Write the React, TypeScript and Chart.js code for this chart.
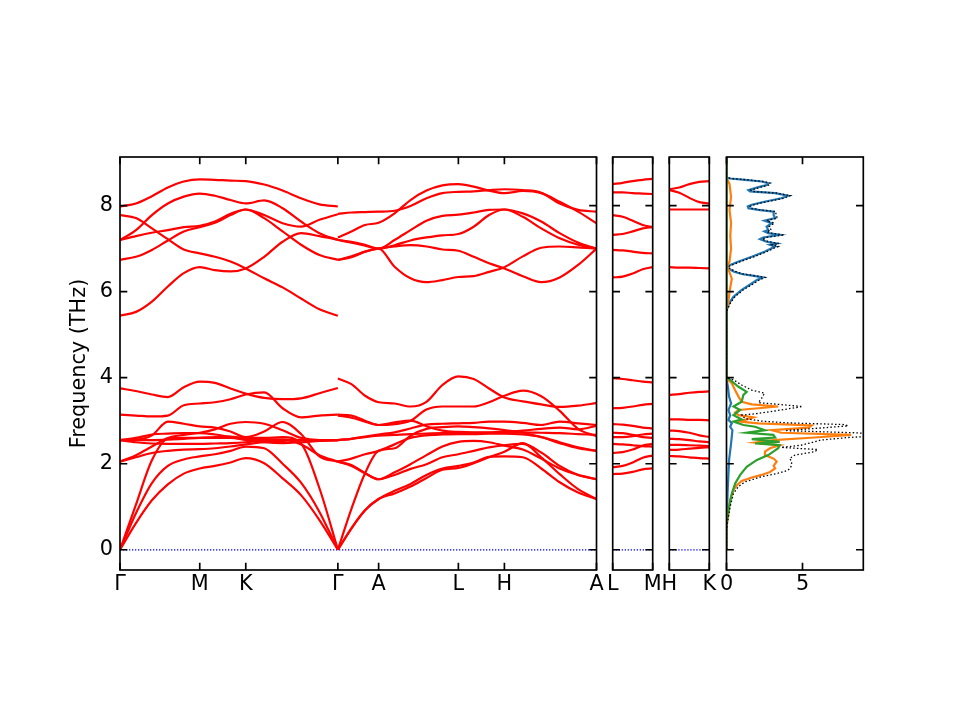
import { useEffect, useRef } from 'react';
import { Chart, registerables } from 'chart.js';

Chart.register(...registerables);

const W = 960;
const H = 720;
const TOP = 157;
const BOTTOM = 570;
const FONT = { family: 'DejaVu Sans', size: 20.8 };
const Y_MIN = -0.47;
const Y_MAX = 9.13;
const Y_AXIS_W = 60;

const freqTicks = [0, 2, 4, 6, 8];

// main path: Γ-M-K-Γ | Γ-A-L-H-A
const kTicksMain = [0, 1, 1.577, 2.732, 3.243, 4.243, 4.82, 5.975];
const kLabelsMain = ['Γ', 'M', 'K', 'Γ', 'A', 'L', 'H', 'A'];
const kPath1 = [0, 0.2, 0.4, 0.6, 0.8, 1, 1.19, 1.385, 1.577, 1.808, 2.039, 2.27, 2.501, 2.732];
const kPath2 = [2.732, 2.902, 3.073, 3.243, 3.443, 3.643, 3.843, 4.043, 4.243, 4.435, 4.628, 4.82, 5.051, 5.282, 5.513, 5.744, 5.975];

const bands1 = [
  [7.98, 8.05, 8.22, 8.42, 8.56, 8.61, 8.6, 8.58, 8.57, 8.49, 8.35, 8.17, 8.03, 7.98],
  [7.2, 7.43, 7.78, 8.05, 8.21, 8.28, 8.23, 8.13, 8.05, 8.12, 7.94, 7.63, 7.36, 7.2],
  [7.78, 7.71, 7.47, 7.22, 6.98, 6.89, 6.81, 6.7, 6.54, 6.31, 6.1, 5.84, 5.59, 5.44],
  [5.44, 5.53, 5.77, 6.12, 6.43, 6.57, 6.5, 6.47, 6.54, 6.81, 7.16, 7.36, 7.29, 7.21],
  [7.2, 7.29, 7.37, 7.43, 7.5, 7.53, 7.63, 7.81, 7.91, 7.78, 7.59, 7.51, 7.67, 7.8],
  [6.74, 6.81, 6.97, 7.19, 7.4, 7.5, 7.6, 7.78, 7.91, 7.71, 7.4, 7.09, 6.85, 6.74],
  [3.75, 3.69, 3.61, 3.55, 3.78, 3.91, 3.88, 3.75, 3.63, 3.53, 3.5, 3.52, 3.64, 3.76],
  [3.14, 3.12, 3.1, 3.12, 3.36, 3.4, 3.43, 3.5, 3.61, 3.66, 3.29, 3.08, 3.12, 3.14],
  [2.55, 2.56, 2.66, 2.98, 2.93, 2.87, 2.84, 2.75, 2.62, 2.75, 2.97, 2.69, 2.17, 2.05],
  [2.05, 2.2, 2.4, 2.6, 2.67, 2.72, 2.8, 2.93, 2.97, 2.93, 2.78, 2.6, 2.55, 2.55],
  [2.55, 2.55, 2.55, 2.56, 2.58, 2.6, 2.6, 2.6, 2.58, 2.57, 2.56, 2.55, 2.55, 2.55],
  [2.55, 2.5, 2.47, 2.46, 2.46, 2.46, 2.47, 2.48, 2.5, 2.54, 2.56, 2.45, 2.2, 2.05],
  [2.05, 2.15, 2.25, 2.3, 2.33, 2.34, 2.36, 2.4, 2.45, 2.5, 2.53, 2.55, 2.55, 2.55],
  [2.55, 2.6, 2.68, 2.7, 2.71, 2.71, 2.68, 2.62, 2.55, 2.5, 2.48, 2.5, 2.53, 2.55],
  [0, 0.62, 1.15, 1.52, 1.77, 1.89, 1.95, 2.03, 2.13, 2.01, 1.66, 1.27, 0.69, 0],
  [0, 0.85, 1.55, 1.95, 2.1, 2.17, 2.22, 2.3, 2.4, 2.36, 2.0, 1.56, 0.88, 0],
  [0, 1.05, 2.08, 2.58, 2.6, 2.6, 2.62, 2.63, 2.6, 2.6, 2.62, 2.47, 1.43, 0],
];

const bands2 = [
  [7.26, 7.4, 7.55, 7.6, 7.82, 8.13, 8.35, 8.47, 8.5, 8.44, 8.35, 8.29, 8.34, 8.29, 8.09, 7.86, 7.59],
  [7.81, 7.84, 7.85, 7.86, 7.88, 7.99, 8.17, 8.29, 8.32, 8.33, 8.36, 8.38, 8.36, 8.3, 8.05, 7.9, 7.86],
  [7.2, 7.16, 7.09, 7.0, 7.08, 7.19, 7.26, 7.31, 7.34, 7.51, 7.78, 7.91, 7.74, 7.47, 7.24, 7.09, 7.0],
  [7.2, 7.14, 7.07, 7.0, 7.2, 7.43, 7.65, 7.76, 7.79, 7.84, 7.9, 7.91, 7.82, 7.63, 7.36, 7.14, 7.0],
  [6.74, 6.8, 6.93, 7.0, 7.05, 7.08, 7.05, 6.98, 6.95, 6.81, 6.66, 6.54, 6.36, 6.22, 6.33, 6.62, 7.0],
  [6.74, 6.82, 6.93, 7.0, 6.58, 6.31, 6.22, 6.27, 6.34, 6.36, 6.46, 6.57, 6.82, 7.02, 7.05, 7.03, 7.0],
  [3.98, 3.85, 3.58, 3.43, 3.4, 3.33, 3.44, 3.83, 4.03, 3.97, 3.75, 3.54, 3.45, 3.38, 3.32, 3.35, 3.41],
  [3.14, 3.12, 3.0, 2.9, 2.92, 3.0, 3.26, 3.33, 3.33, 3.33, 3.43, 3.58, 3.7, 3.57, 3.23, 2.81, 2.64],
  [3.12, 3.07, 2.98, 2.9, 2.96, 3.0, 2.87, 2.77, 2.74, 2.73, 2.73, 2.74, 2.77, 2.81, 2.84, 2.8, 2.88],
  [2.55, 2.58, 2.62, 2.65, 2.67, 2.69, 2.7, 2.71, 2.71, 2.72, 2.72, 2.73, 2.73, 2.72, 2.71, 2.69, 2.67],
  [2.55, 2.58, 2.63, 2.68, 2.73, 2.82, 2.91, 2.93, 2.94, 2.95, 2.98, 2.98, 2.95, 2.9, 2.98, 2.94, 2.9],
  [0, 0.95, 1.78, 2.3, 2.36, 2.65, 2.81, 2.85, 2.87, 2.85, 2.82, 2.78, 2.72, 2.62, 2.48, 2.36, 2.3],
  [2.05, 2.12, 2.22, 2.3, 2.45, 2.6, 2.66, 2.68, 2.69, 2.69, 2.7, 2.7, 2.68, 2.62, 2.5, 2.38, 2.3],
  [2.05, 1.97, 1.78, 1.64, 1.8, 1.99, 2.2, 2.4, 2.51, 2.53, 2.5, 2.42, 2.33, 2.12, 1.89, 1.74, 1.64],
  [2.05, 1.95, 1.78, 1.64, 1.74, 1.88, 1.99, 2.15, 2.22, 2.3, 2.38, 2.43, 2.46, 2.26, 1.95, 1.74, 1.64],
  [0, 0.5, 0.92, 1.18, 1.31, 1.47, 1.67, 1.86, 1.9, 2.01, 2.15, 2.28, 2.48, 2.15, 1.76, 1.41, 1.18],
  [0, 0.5, 0.92, 1.18, 1.37, 1.53, 1.74, 1.89, 1.95, 2.03, 2.16, 2.17, 2.15, 1.89, 1.57, 1.33, 1.18],
];

// L-M panel
const kLM = [0, 0.127, 0.255, 0.382, 0.509];
const labelsLM = ['L', 'M'];
const bandsLM = [
  [8.5, 8.53, 8.57, 8.6, 8.62],
  [8.31, 8.31, 8.29, 8.28, 8.27],
  [7.78, 7.74, 7.65, 7.55, 7.5],
  [7.32, 7.34, 7.4, 7.47, 7.5],
  [6.97, 6.96, 6.93, 6.9, 6.89],
  [6.33, 6.35, 6.42, 6.52, 6.57],
  [3.99, 3.97, 3.94, 3.91, 3.89],
  [3.29, 3.3, 3.33, 3.37, 3.39],
  [2.92, 2.91, 2.88, 2.84, 2.82],
  [2.72, 2.71, 2.67, 2.62, 2.6],
  [2.62, 2.62, 2.64, 2.68, 2.7],
  [2.46, 2.45, 2.43, 2.41, 2.4],
  [2.25, 2.27, 2.33, 2.42, 2.46],
  [1.92, 1.95, 2.03, 2.14, 2.19],
  [1.76, 1.77, 1.81, 1.87, 1.89],
];

// H-K panel
const kHK = [0, 0.127, 0.255, 0.382, 0.509];
const labelsHK = ['H', 'K'];
const bandsHK = [
  [8.38, 8.42, 8.5, 8.55, 8.57],
  [8.36, 8.3, 8.18, 8.08, 8.05],
  [7.91, 7.91, 7.91, 7.91, 7.91],
  [6.57, 6.56, 6.56, 6.55, 6.54],
  [3.6, 3.62, 3.65, 3.67, 3.68],
  [3.03, 3.03, 3.02, 3.02, 3.01],
  [2.77, 2.76, 2.72, 2.66, 2.62],
  [2.58, 2.57, 2.55, 2.52, 2.5],
  [2.44, 2.44, 2.43, 2.42, 2.41],
  [2.32, 2.33, 2.35, 2.37, 2.38],
  [2.18, 2.17, 2.15, 2.13, 2.12],
];

// DOS: [frequency, dos]
const dosTicks = [0, 5];
const dosLabels = ['0', '5'];
const dosTotal = [
  [0, 0], [0.46, 0], [0.69, 0.09], [1.0, 0.24], [1.31, 0.46], [1.47, 0.79], [1.58, 1.22], [1.7, 2.31],
  [1.78, 3.4], [1.85, 4.06], [1.93, 4.24], [2.05, 4.3], [2.12, 4.15], [2.2, 4.5], [2.28, 5.8], [2.33, 6.0],
  [2.38, 3.6], [2.43, 4.9], [2.51, 5.8], [2.55, 6.2], [2.61, 8.0], [2.67, 11.0], [2.72, 8.4], [2.77, 3.85],
  [2.82, 5.8], [2.88, 8.0], [2.91, 7.8], [2.95, 4.06], [2.99, 2.31], [3.05, 1.22], [3.13, 1.0], [3.17, 2.1],
  [3.25, 3.6], [3.33, 5.0], [3.36, 4.06], [3.42, 2.1], [3.52, 2.31], [3.64, 2.5], [3.71, 1.66], [3.83, 1.0],
  [3.95, 0.46], [4.0, 0], [5.5, 0], [5.57, 0.04], [5.73, 0.25], [5.88, 0.55], [6.04, 1.1], [6.19, 1.8],
  [6.27, 2.15], [6.33, 2.55], [6.36, 2.05], [6.41, 1.12], [6.47, 0.58], [6.54, 0.22], [6.58, 0.1], [6.62, 0.35],
  [6.7, 0.95], [6.81, 1.8], [6.93, 2.65], [7.01, 3.12], [7.05, 3.4], [7.09, 3.0], [7.12, 3.45], [7.16, 2.8],
  [7.22, 2.35], [7.26, 2.6], [7.32, 3.8], [7.36, 2.9], [7.4, 2.65], [7.43, 2.95], [7.51, 2.8], [7.59, 3.15],
  [7.65, 2.65], [7.71, 3.35], [7.78, 3.25], [7.86, 3.25], [7.9, 2.25], [7.94, 1.6], [7.98, 1.55], [8.02, 1.8],
  [8.09, 2.65], [8.17, 3.75], [8.23, 4.2], [8.29, 3.35], [8.33, 1.7], [8.36, 1.6], [8.43, 2.25], [8.48, 2.8],
  [8.52, 2.9], [8.56, 2.45], [8.6, 1.35], [8.63, 0.3], [8.66, 0], [9.13, 0],
];
const dosBlue = [
  [0, 0], [0.38, 0], [1.31, 0.07], [2.09, 0.17], [2.47, 0.3], [2.78, 0.39], [2.86, 0.24], [2.94, 0.35],
  [3.02, 0.13], [3.13, 0.24], [3.25, 0.13], [3.4, 0.3], [3.56, 0.17], [3.79, 0.09], [3.98, 0], [5.5, 0],
  [5.57, 0.02], [5.73, 0.17], [5.88, 0.46], [6.04, 1.0], [6.19, 1.66], [6.27, 2.0], [6.33, 2.4], [6.36, 1.9],
  [6.41, 1.0], [6.47, 0.46], [6.54, 0.13], [6.58, 0.05], [6.62, 0.24], [6.7, 0.8], [6.81, 1.66], [6.93, 2.5],
  [7.01, 2.97], [7.05, 3.2], [7.09, 2.86], [7.12, 3.3], [7.16, 2.64], [7.22, 2.2], [7.26, 2.42], [7.32, 3.5],
  [7.36, 2.75], [7.4, 2.5], [7.43, 2.75], [7.51, 2.64], [7.59, 2.97], [7.65, 2.5], [7.71, 3.2], [7.78, 3.1],
  [7.86, 3.1], [7.9, 2.1], [7.94, 1.44], [7.98, 1.4], [8.02, 1.66], [8.09, 2.5], [8.17, 3.6], [8.23, 4.06],
  [8.29, 3.2], [8.33, 1.55], [8.36, 1.44], [8.43, 2.1], [8.48, 2.64], [8.52, 2.75], [8.56, 2.31], [8.6, 1.22],
  [8.63, 0.24], [8.65, 0], [9.13, 0],
];
const dosOrange = [
  [0, 0], [0.53, 0], [0.84, 0.13], [1.16, 0.24], [1.39, 0.46], [1.5, 0.68], [1.6, 1.0], [1.68, 1.66],
  [1.74, 2.31], [1.81, 2.86], [1.89, 3.2], [1.95, 3.1], [2.05, 3.3], [2.12, 3.1], [2.2, 2.53], [2.28, 2.53],
  [2.36, 2.86], [2.43, 3.5], [2.49, 1.88], [2.55, 3.1], [2.61, 5.8], [2.67, 8.2], [2.72, 3.6], [2.78, 2.97],
  [2.84, 5.4], [2.89, 5.6], [2.94, 2.1], [2.98, 0.9], [3.02, 1.22], [3.08, 1.77], [3.13, 0.79], [3.19, 0.57],
  [3.25, 0.79], [3.33, 3.4], [3.38, 1.66], [3.44, 1.0], [3.56, 0.79], [3.71, 0.57], [3.87, 0.35], [3.98, 0],
  [5.55, 0], [5.7, 0.1], [6.0, 0.2], [6.3, 0.35], [6.5, 0.15], [6.58, 0.05], [6.7, 0.2], [7.0, 0.3],
  [7.3, 0.25], [7.6, 0.3], [7.9, 0.2], [8.2, 0.3], [8.5, 0.2], [8.65, 0], [9.13, 0],
];
const dosGreen = [
  [0, 0], [0.61, 0], [1.0, 0.17], [1.31, 0.35], [1.54, 0.57], [1.74, 0.9], [1.93, 1.33], [2.09, 2.0],
  [2.2, 2.75], [2.28, 3.08], [2.36, 3.4], [2.43, 3.5], [2.47, 1.88], [2.51, 3.5], [2.57, 1.66], [2.61, 3.2],
  [2.67, 3.08], [2.72, 1.33], [2.78, 2.53], [2.86, 1.88], [2.9, 1.11], [2.98, 0.46], [3.03, 1.0], [3.13, 0.46],
  [3.25, 0.9], [3.33, 0.46], [3.44, 1.0], [3.6, 1.11], [3.67, 1.33], [3.79, 0.79], [3.95, 0.24], [4.0, 0],
  [5.6, 0], [5.7, 0.03], [8.6, 0.03], [8.65, 0], [9.13, 0],
];

const framePlugin = {
  id: 'frame',
  afterDraw(chart: any, _args: any, opts: any) {
    const { ctx, chartArea: a } = chart;
    const xs = chart.scales.x;
    const ys = chart.scales.y;
    const t = 7.3;
    ctx.save();
    ctx.strokeStyle = '#000';
    ctx.lineWidth = 1.67;
    ctx.beginPath();
    for (const v of opts.yTicks || []) {
      const p = ys.getPixelForValue(v);
      ctx.moveTo(a.left, p);
      ctx.lineTo(a.left + t, p);
      ctx.moveTo(a.right, p);
      ctx.lineTo(a.right - t, p);
    }
    for (const v of opts.xTicks || []) {
      const p = xs.getPixelForValue(v);
      ctx.moveTo(p, a.bottom);
      ctx.lineTo(p, a.bottom - t);
      ctx.moveTo(p, a.top);
      ctx.lineTo(p, a.top + t);
    }
    ctx.stroke();
    ctx.strokeRect(a.left, a.top, a.right - a.left, a.bottom - a.top);
    ctx.restore();
  },
};

const redLine = (xs: number[], ys: number[]) => ({
  data: xs.map((x, i) => ({ x, y: ys[i] })),
  borderColor: '#ff0000',
  borderWidth: 2.2,
  pointRadius: 0,
  cubicInterpolationMode: 'monotone',
  fill: false,
});

const zeroLine = (xMax: number) => ({
  data: [{ x: 0, y: 0 }, { x: xMax, y: 0 }],
  borderColor: '#0000ff',
  borderWidth: 1.3,
  borderDash: [1.3, 1.7],
  pointRadius: 0,
  fill: false,
});

const dosLine = (pts: number[][], color: string, width: number, dash: number[] = []) => ({
  data: pts.map(([f, d]) => ({ x: d, y: f })),
  borderColor: color,
  borderWidth: width,
  borderDash: dash,
  pointRadius: 0,
  tension: 0,
  fill: false,
});

interface PanelSpec {
  left: number;
  right: number;
  xMax: number;
  xTicks: number[];
  xLabels: string[];
  yLabels: boolean;
  indexAxis?: 'x' | 'y';
}

function panelOptions(p: PanelSpec) {
  return {
    animation: false,
    responsive: false,
    events: [],
    indexAxis: p.indexAxis || 'x',
    layout: {
      padding: { left: p.yLabels ? p.left - Y_AXIS_W : p.left, right: W - p.right, top: TOP, bottom: 0 },
    },
    plugins: {
      legend: { display: false },
      tooltip: { enabled: false },
      frame: { xTicks: p.xTicks, yTicks: freqTicks },
    },
    scales: {
      x: {
        type: 'linear',
        min: 0,
        max: p.xMax,
        position: 'bottom',
        grid: { display: false, drawTicks: false },
        border: { display: false },
        afterBuildTicks: (s: any) => {
          s.ticks = p.xTicks.map((value) => ({ value }));
        },
        afterFit: (s: any) => {
          s.height = H - BOTTOM;
        },
        ticks: {
          autoSkip: false,
          maxRotation: 0,
          minRotation: 0,
          padding: 2,
          color: '#000',
          font: FONT,
          callback: (_v: any, i: number) => p.xLabels[i],
        },
      },
      y: {
        type: 'linear',
        min: Y_MIN,
        max: Y_MAX,
        position: 'left',
        display: p.yLabels,
        grid: { display: false, drawTicks: false },
        border: { display: false },
        afterBuildTicks: (s: any) => {
          s.ticks = freqTicks.map((value) => ({ value }));
        },
        afterFit: (s: any) => {
          s.width = p.yLabels ? Y_AXIS_W : 0;
        },
        ticks: { padding: 7, color: '#000', font: FONT, callback: (v: any) => String(v) },
        title: {
          display: p.yLabels,
          text: 'Frequency (THz)',
          color: '#000',
          font: FONT,
          padding: { top: 7, bottom: 0 },
        },
      },
    },
  };
}

const mainConfig = () => ({
  type: 'line',
  data: {
    datasets: [
      ...bands1.map((b) => redLine(kPath1, b)),
      ...bands2.map((b) => redLine(kPath2, b)),
      zeroLine(5.975),
    ],
  },
  options: panelOptions({ left: 120, right: 596.5, xMax: 5.975, xTicks: kTicksMain, xLabels: kLabelsMain, yLabels: true }),
  plugins: [framePlugin],
});

const lmConfig = () => ({
  type: 'line',
  data: { datasets: [...bandsLM.map((b) => redLine(kLM, b)), zeroLine(0.509)] },
  options: panelOptions({ left: 612.7, right: 652.7, xMax: 0.509, xTicks: [0, 0.509], xLabels: labelsLM, yLabels: false }),
  plugins: [framePlugin],
});

const hkConfig = () => ({
  type: 'line',
  data: { datasets: [...bandsHK.map((b) => redLine(kHK, b)), zeroLine(0.509)] },
  options: panelOptions({ left: 669.3, right: 709.3, xMax: 0.509, xTicks: [0, 0.509], xLabels: labelsHK, yLabels: false }),
  plugins: [framePlugin],
});

const dosConfig = () => ({
  type: 'line',
  data: {
    datasets: [
      dosLine(dosTotal, '#000000', 1.3, [1.5, 2.2]),
      dosLine(dosGreen, '#2ca02c', 2.2),
      dosLine(dosOrange, '#ff7f0e', 2.2),
      dosLine(dosBlue, '#1f77b4', 2.2),
    ],
  },
  options: panelOptions({ left: 726.5, right: 863.3, xMax: 9, xTicks: dosTicks, xLabels: dosLabels, yLabels: false, indexAxis: 'y' }),
  plugins: [framePlugin],
});

function ChartLayer({ build }: { build: () => any }) {
  const canvasRef = useRef<HTMLCanvasElement>(null);

  useEffect(() => {
    if (!canvasRef.current) return;
    const chart = new Chart(canvasRef.current, build());
    return () => {
      chart.destroy();
    };
  }, [build]);

  return <canvas ref={canvasRef} width={W} height={H} style={{ position: 'absolute', left: 0, top: 0 }} />;
}

export default function App() {
  return (
    <div style={{ position: 'absolute', left: 0, top: 0, width: W, height: H, background: '#fff' }}>
      <ChartLayer build={mainConfig} />
      <ChartLayer build={lmConfig} />
      <ChartLayer build={hkConfig} />
      <ChartLayer build={dosConfig} />
    </div>
  );
}
